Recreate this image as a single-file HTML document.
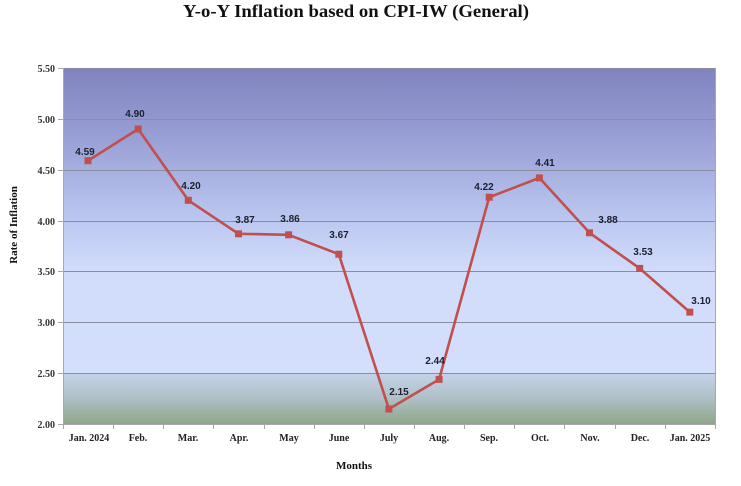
<!DOCTYPE html>
<html>
<head>
<meta charset="utf-8">
<style>
  html, body { margin:0; padding:0; background:#ffffff; }
  body { width:741px; height:486px; overflow:hidden; }
  svg { display:block; }
  .ttl { font-family:"Liberation Serif", serif; font-weight:bold; font-size:18px; fill:#111; }
  .yt { font-family:"Liberation Serif", serif; font-weight:bold; font-size:10px; fill:#333; }
  .xt { font-family:"Liberation Serif", serif; font-weight:bold; font-size:10px; fill:#222; }
  .at { font-family:"Liberation Serif", serif; font-weight:bold; font-size:11px; fill:#111; }
  .dl { font-family:"Liberation Sans", sans-serif; font-weight:bold; font-size:10px; fill:#1e2030; }
</style>
</head>
<body>
<svg width="741" height="486" viewBox="0 0 741 486" xmlns="http://www.w3.org/2000/svg">
  <defs>
    <linearGradient id="bg" x1="0" y1="0" x2="0" y2="1">
      <stop offset="0" stop-color="#8083bf"/>
      <stop offset="0.2" stop-color="#99a0d5"/>
      <stop offset="0.43" stop-color="#bcc8f1"/>
      <stop offset="0.57" stop-color="#d1dcfb"/>
      <stop offset="0.855" stop-color="#d4dffc"/>
      <stop offset="0.86" stop-color="#c4d2ea"/>
      <stop offset="0.93" stop-color="#aebfc4"/>
      <stop offset="1" stop-color="#8ea787"/>
    </linearGradient>
  </defs>

  <text class="ttl" x="356" y="17" text-anchor="middle" textLength="346" lengthAdjust="spacingAndGlyphs">Y-o-Y Inflation based on CPI-IW (General)</text>

  <!-- plot background -->
  <rect x="63" y="68" width="652" height="356" fill="url(#bg)"/>

  <!-- gridlines -->
  <g stroke="#8a8da0" stroke-width="1">
    <line x1="63" y1="68.5" x2="715" y2="68.5"/>
    <line x1="63" y1="119.5" x2="715" y2="119.5"/>
    <line x1="63" y1="170.5" x2="715" y2="170.5"/>
    <line x1="63" y1="221.5" x2="715" y2="221.5"/>
    <line x1="63" y1="271.5" x2="715" y2="271.5"/>
    <line x1="63" y1="322.5" x2="715" y2="322.5"/>
    <line x1="63" y1="373.5" x2="715" y2="373.5"/>
  </g>

  <!-- axes -->
  <g stroke="#a8a8a8" stroke-width="1">
    <line x1="63.5" y1="68" x2="63.5" y2="424"/>
    <line x1="63" y1="424.5" x2="715" y2="424.5"/>
    <line x1="715.5" y1="68" x2="715.5" y2="424"/>
    <!-- y ticks -->
    <line x1="58" y1="68.5" x2="63" y2="68.5"/>
    <line x1="58" y1="119.5" x2="63" y2="119.5"/>
    <line x1="58" y1="170.5" x2="63" y2="170.5"/>
    <line x1="58" y1="221.5" x2="63" y2="221.5"/>
    <line x1="58" y1="271.5" x2="63" y2="271.5"/>
    <line x1="58" y1="322.5" x2="63" y2="322.5"/>
    <line x1="58" y1="373.5" x2="63" y2="373.5"/>
    <line x1="58" y1="424.5" x2="63" y2="424.5"/>
    <!-- x ticks -->
    <line x1="63.5" y1="424" x2="63.5" y2="429"/>
    <line x1="113.5" y1="424" x2="113.5" y2="429"/>
    <line x1="163.5" y1="424" x2="163.5" y2="429"/>
    <line x1="213.5" y1="424" x2="213.5" y2="429"/>
    <line x1="264.5" y1="424" x2="264.5" y2="429"/>
    <line x1="314.5" y1="424" x2="314.5" y2="429"/>
    <line x1="364.5" y1="424" x2="364.5" y2="429"/>
    <line x1="414.5" y1="424" x2="414.5" y2="429"/>
    <line x1="464.5" y1="424" x2="464.5" y2="429"/>
    <line x1="514.5" y1="424" x2="514.5" y2="429"/>
    <line x1="564.5" y1="424" x2="564.5" y2="429"/>
    <line x1="615.5" y1="424" x2="615.5" y2="429"/>
    <line x1="665.5" y1="424" x2="665.5" y2="429"/>
    <line x1="715.5" y1="424" x2="715.5" y2="429"/>
  </g>

  <!-- y tick labels -->
  <g class="yt" text-anchor="end">
    <text x="55" y="72">5.50</text>
    <text x="55" y="123">5.00</text>
    <text x="55" y="174">4.50</text>
    <text x="55" y="225">4.00</text>
    <text x="55" y="275">3.50</text>
    <text x="55" y="326">3.00</text>
    <text x="55" y="377">2.50</text>
    <text x="55" y="428">2.00</text>
  </g>

  <!-- x tick labels -->
  <g class="xt" text-anchor="middle">
    <text x="89" y="441">Jan. 2024</text>
    <text x="138" y="441">Feb.</text>
    <text x="188" y="441">Mar.</text>
    <text x="239" y="441">Apr.</text>
    <text x="289" y="441">May</text>
    <text x="339" y="441">June</text>
    <text x="389" y="441">July</text>
    <text x="439" y="441">Aug.</text>
    <text x="489" y="441">Sep.</text>
    <text x="540" y="441">Oct.</text>
    <text x="590" y="441">Nov.</text>
    <text x="640" y="441">Dec.</text>
    <text x="690" y="441">Jan. 2025</text>
  </g>

  <!-- axis titles -->
  <text class="at" x="354" y="469" text-anchor="middle">Months</text>
  <text class="at" x="0" y="0" text-anchor="middle" transform="translate(17,225) rotate(-90)">Rate of Inflation</text>

  <!-- series line -->
  <polyline fill="none" stroke="#c0504d" stroke-width="2.6" stroke-linejoin="round"
    points="88,160.7 138.2,129.0 188.3,200.3 238.5,233.8 288.6,234.8 338.8,254.2 388.9,409.0 439.1,379.4 489.2,197.2 539.4,177.9 589.5,232.8 639.7,268.4 689.8,312.1"/>

  <!-- markers -->
  <g fill="#c0504d">
    <rect x="84.5" y="157.2" width="7" height="7"/>
    <rect x="134.7" y="125.5" width="7" height="7"/>
    <rect x="184.8" y="196.8" width="7" height="7"/>
    <rect x="235" y="230.3" width="7" height="7"/>
    <rect x="285.1" y="231.3" width="7" height="7"/>
    <rect x="335.3" y="250.7" width="7" height="7"/>
    <rect x="385.4" y="405.5" width="7" height="7"/>
    <rect x="435.6" y="375.9" width="7" height="7"/>
    <rect x="485.7" y="193.7" width="7" height="7"/>
    <rect x="535.9" y="174.4" width="7" height="7"/>
    <rect x="586" y="229.3" width="7" height="7"/>
    <rect x="636.2" y="264.9" width="7" height="7"/>
    <rect x="686.3" y="308.6" width="7" height="7"/>
  </g>

  <!-- data labels -->
  <g class="dl" text-anchor="middle">
    <text x="85" y="155">4.59</text>
    <text x="135" y="117">4.90</text>
    <text x="191" y="189">4.20</text>
    <text x="245" y="223">3.87</text>
    <text x="290" y="222">3.86</text>
    <text x="339" y="238">3.67</text>
    <text x="399" y="395">2.15</text>
    <text x="435" y="364">2.44</text>
    <text x="484" y="190">4.22</text>
    <text x="545" y="166">4.41</text>
    <text x="608" y="223">3.88</text>
    <text x="643" y="255">3.53</text>
    <text x="701" y="304">3.10</text>
  </g>
</svg>
</body>
</html>
